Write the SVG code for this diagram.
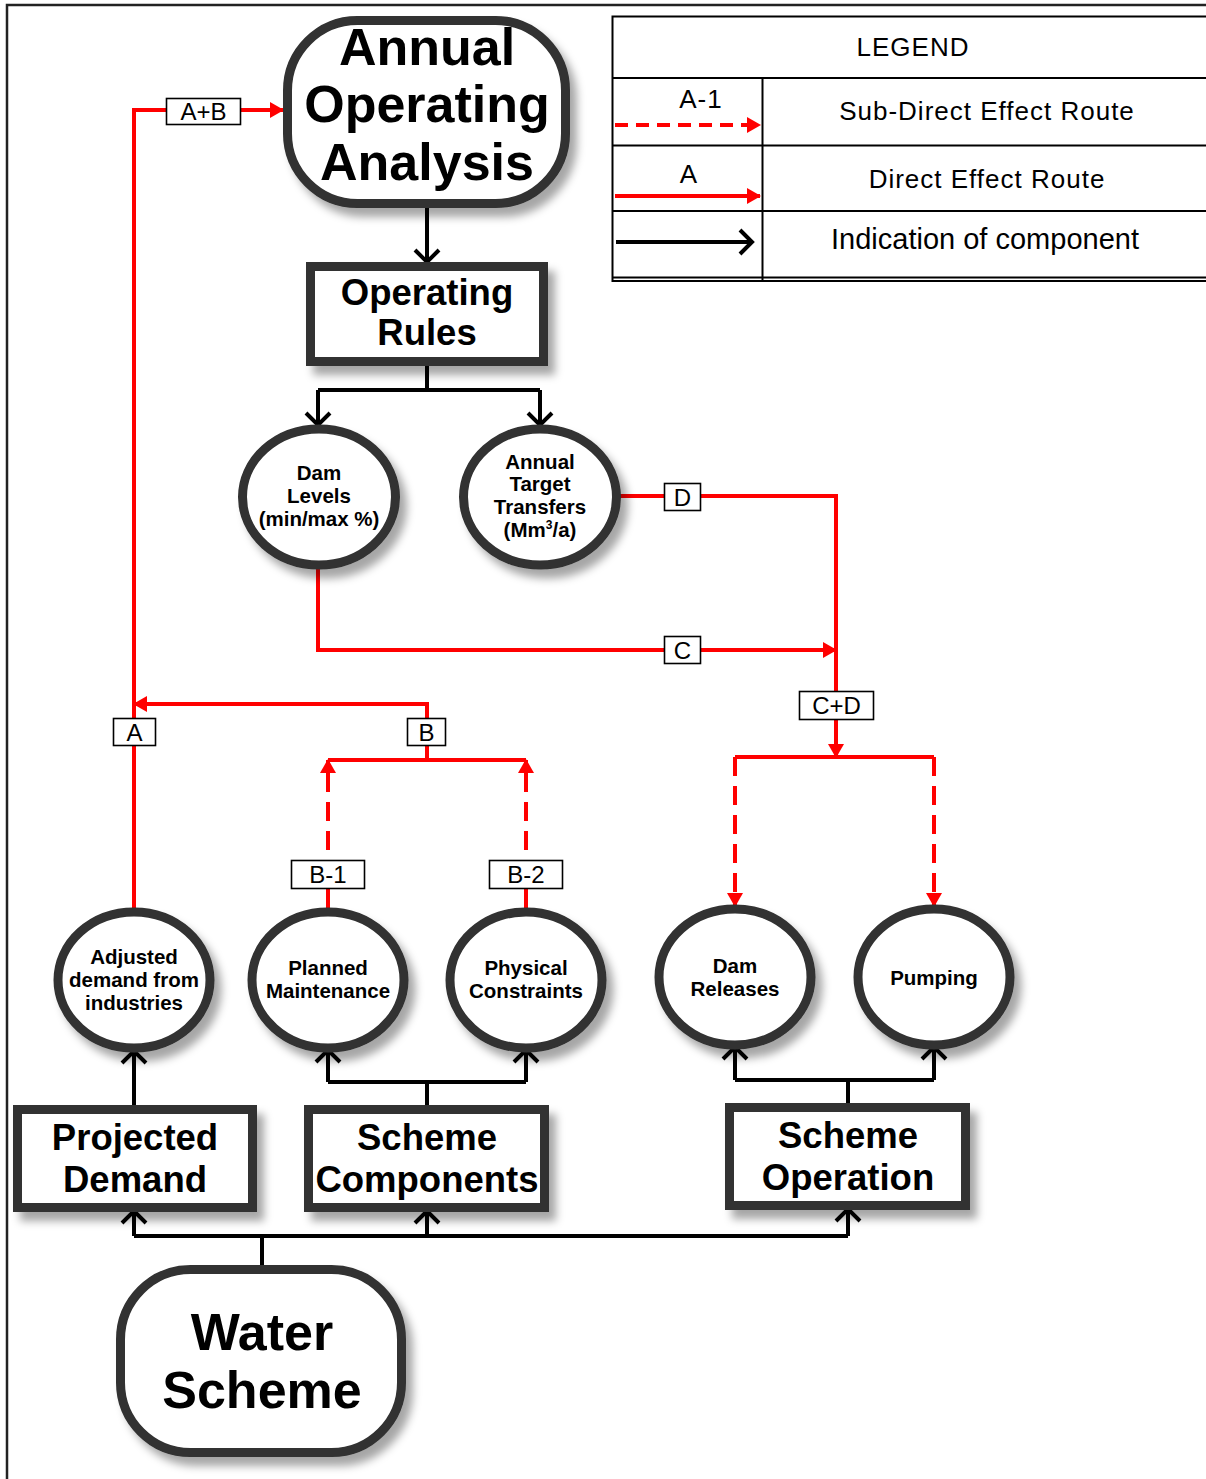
<svg xmlns="http://www.w3.org/2000/svg" width="1206" height="1479" viewBox="0 0 1206 1479">
  <style>
    .node { fill: #fff; stroke: #303030; stroke-width: 9; filter: url(#shadow); }
    .big { font-family: "Liberation Sans", Arial, sans-serif; font-weight: bold; fill: #000; text-anchor: middle; }
    .t50 { font-size: 52px; }
    .t35 { font-size: 36.5px; }
    .t20 { font-size: 20.5px; }
    .lbl { font-family: "Liberation Sans", Arial, sans-serif; font-size: 24px; fill: #000; text-anchor: middle; }
    .lbox { fill: #fff; stroke: #000; stroke-width: 1.6; }
    .blk { fill: none; stroke: #000; stroke-width: 4; }
    .red { fill: none; stroke: #ff0000; stroke-width: 4; }
    .dash { stroke-dasharray: 19 10; }
    .leg { font-family: "Liberation Sans", Arial, sans-serif; font-size: 26px; fill: #000; text-anchor: middle; letter-spacing: 1px; }
    .grid { fill: none; stroke: #000; stroke-width: 2; }
  </style>
  <defs>
    <filter id="shadow" x="-20%" y="-20%" width="150%" height="150%">
      <feDropShadow dx="7" dy="9" stdDeviation="4.5" flood-color="#000" flood-opacity="0.35"/>
    </filter>
    <marker id="redHead" markerUnits="userSpaceOnUse" markerWidth="14" markerHeight="16" refX="13" refY="8" orient="auto" overflow="visible">
      <path d="M0,0 L14,8 L0,16 Z" fill="#ff0000"/>
    </marker>
    <marker id="openHead" markerUnits="userSpaceOnUse" markerWidth="14" markerHeight="26" refX="12" refY="12" orient="auto" overflow="visible">
      <path d="M0,0 L12,12 L0,24" fill="none" stroke="#000" stroke-width="4"/>
    </marker>
  </defs>

  <!-- page frame -->
  <path d="M7,1479 V5 H1206" fill="none" stroke="#222" stroke-width="2.5"/>

  <!-- legend table -->
  <g id="legend">
    <path class="grid" d="M1206,16.5 H612.5 V281 H1206"/>
    <path class="grid" d="M612.5,78 H1206 M612.5,145.5 H1206 M612.5,211 H1206 M612.5,277.5 H1206 M762.5,78 V281"/>
    <text class="leg" x="913" y="56">LEGEND</text>
    <text class="leg" x="701" y="108">A-1</text>
    <path class="red" d="M615,125 H760" stroke-dasharray="13 8" marker-end="url(#redHead)"/>
    <text class="leg" x="987" y="120">Sub-Direct Effect Route</text>
    <text class="leg" x="689" y="183">A</text>
    <path class="red" d="M615,196 H760" marker-end="url(#redHead)"/>
    <text class="leg" x="987" y="188">Direct Effect Route</text>
    <path class="blk" d="M616,242 H752" stroke-width="3.5" marker-end="url(#openHead)"/>
    <text x="985" y="249" font-family="Liberation Sans, Arial, sans-serif" font-size="29" text-anchor="middle">Indication of component</text>
  </g>

  <!-- connectors -->
  <g id="connectors">
    <!-- component links (black) -->
    <path class="blk" d="M427,208 V262" marker-end="url(#openHead)"/>
    <path class="blk" d="M427,366 V390 M318,390 H540"/>
    <path class="blk" d="M318,390 V425" marker-end="url(#openHead)"/>
    <path class="blk" d="M540,390 V425" marker-end="url(#openHead)"/>
    <path class="blk" d="M134,1105 V1051" marker-end="url(#openHead)"/>
    <path class="blk" d="M427,1105 V1082 M328,1082 H526"/>
    <path class="blk" d="M328,1082 V1050" marker-end="url(#openHead)"/>
    <path class="blk" d="M526,1082 V1050" marker-end="url(#openHead)"/>
    <path class="blk" d="M848,1103 V1080 M735,1080 H934"/>
    <path class="blk" d="M735,1080 V1047" marker-end="url(#openHead)"/>
    <path class="blk" d="M934,1080 V1047" marker-end="url(#openHead)"/>
    <path class="blk" d="M262,1265 V1236 M134,1236 H848"/>
    <path class="blk" d="M134,1236 V1211" marker-end="url(#openHead)"/>
    <path class="blk" d="M427,1236 V1211" marker-end="url(#openHead)"/>
    <path class="blk" d="M848,1236 V1209" marker-end="url(#openHead)"/>

    <!-- effect routes (red) -->
    <path class="red" d="M134,908 V110 H283" marker-end="url(#redHead)"/>
    <path class="red" d="M427,760 V704 H134" marker-end="url(#redHead)"/>
    <path class="red" d="M328,760 H526"/>
    <path class="red dash" d="M328,908 V760" marker-end="url(#redHead)"/>
    <path class="red dash" d="M526,908 V760" marker-end="url(#redHead)"/>
    <path class="red" d="M620,496 H836 V757" marker-end="url(#redHead)"/>
    <path class="red" d="M318,567 V650 H836" marker-end="url(#redHead)"/>
    <path class="red" d="M735,757 H934"/>
    <path class="red dash" d="M735,757 V906" marker-end="url(#redHead)"/>
    <path class="red dash" d="M934,757 V906" marker-end="url(#redHead)"/>

    <!-- route labels -->
    <rect class="lbox" x="166.5" y="98.5" width="74" height="26"/>
    <text class="lbl" x="203.5" y="120">A+B</text>
    <rect class="lbox" x="113.5" y="718.5" width="42" height="27"/>
    <text class="lbl" x="134.5" y="741">A</text>
    <rect class="lbox" x="407.5" y="718.5" width="38" height="27"/>
    <text class="lbl" x="426.5" y="741">B</text>
    <rect class="lbox" x="291.5" y="860.5" width="73" height="28"/>
    <text class="lbl" x="328" y="883">B-1</text>
    <rect class="lbox" x="489.5" y="860.5" width="73" height="28"/>
    <text class="lbl" x="526" y="883">B-2</text>
    <rect class="lbox" x="664.5" y="483.5" width="36" height="27"/>
    <text class="lbl" x="682.5" y="506">D</text>
    <rect class="lbox" x="664.5" y="636.5" width="36" height="27"/>
    <text class="lbl" x="682.5" y="659">C</text>
    <rect class="lbox" x="799.5" y="691.5" width="74" height="28"/>
    <text class="lbl" x="836.5" y="714">C+D</text>
  </g>

  <!-- nodes -->
  <g id="annual-operating-analysis">
    <rect class="node" x="287.5" y="20.5" width="278" height="183" rx="70"/>
    <text class="big t50" x="427" y="65">Annual</text>
    <text class="big t50" x="427" y="122">Operating</text>
    <text class="big t50" x="427" y="180">Analysis</text>
  </g>
  <g id="operating-rules">
    <rect class="node" x="310.5" y="266.5" width="233" height="95"/>
    <text class="big t35" x="427" y="305">Operating</text>
    <text class="big t35" x="427" y="345">Rules</text>
  </g>
  <g id="dam-levels">
    <ellipse class="node" cx="319" cy="497" rx="76.5" ry="68"/>
    <text class="big t20" x="319" y="480">Dam</text>
    <text class="big t20" x="319" y="503">Levels</text>
    <text class="big t20" x="319" y="526">(min/max %)</text>
  </g>
  <g id="annual-target-transfers">
    <ellipse class="node" cx="540" cy="497" rx="76.5" ry="68"/>
    <text class="big t20" x="540" y="469">Annual</text>
    <text class="big t20" x="540" y="491">Target</text>
    <text class="big t20" x="540" y="514">Transfers</text>
    <text class="big t20" x="540" y="537">(Mm<tspan font-size="12" dy="-8">3</tspan><tspan dy="8">/a)</tspan></text>
  </g>
  <g id="adjusted-demand">
    <ellipse class="node" cx="134" cy="980" rx="76" ry="68"/>
    <text class="big t20" x="134" y="964">Adjusted</text>
    <text class="big t20" x="134" y="987">demand from</text>
    <text class="big t20" x="134" y="1010">industries</text>
  </g>
  <g id="planned-maintenance">
    <ellipse class="node" cx="328" cy="980" rx="76" ry="68"/>
    <text class="big t20" x="328" y="975">Planned</text>
    <text class="big t20" x="328" y="998">Maintenance</text>
  </g>
  <g id="physical-constraints">
    <ellipse class="node" cx="526" cy="980" rx="76" ry="68"/>
    <text class="big t20" x="526" y="975">Physical</text>
    <text class="big t20" x="526" y="998">Constraints</text>
  </g>
  <g id="dam-releases">
    <ellipse class="node" cx="735" cy="977" rx="76" ry="68"/>
    <text class="big t20" x="735" y="973">Dam</text>
    <text class="big t20" x="735" y="996">Releases</text>
  </g>
  <g id="pumping">
    <ellipse class="node" cx="934" cy="977" rx="76" ry="68"/>
    <text class="big t20" x="934" y="985">Pumping</text>
  </g>
  <g id="projected-demand">
    <rect class="node" x="17.5" y="1109.5" width="235" height="98"/>
    <text class="big t35" x="135" y="1150">Projected</text>
    <text class="big t35" x="135" y="1192">Demand</text>
  </g>
  <g id="scheme-components">
    <rect class="node" x="308.5" y="1109.5" width="236" height="98"/>
    <text class="big t35" x="427" y="1150">Scheme</text>
    <text class="big t35" x="427" y="1192">Components</text>
  </g>
  <g id="scheme-operation">
    <rect class="node" x="729.5" y="1107.5" width="236" height="98"/>
    <text class="big t35" x="848" y="1148">Scheme</text>
    <text class="big t35" x="848" y="1190">Operation</text>
  </g>
  <g id="water-scheme">
    <rect class="node" x="120.5" y="1269.5" width="281" height="183" rx="70"/>
    <text class="big t50" x="262" y="1350">Water</text>
    <text class="big t50" x="262" y="1408">Scheme</text>
  </g>
</svg>
